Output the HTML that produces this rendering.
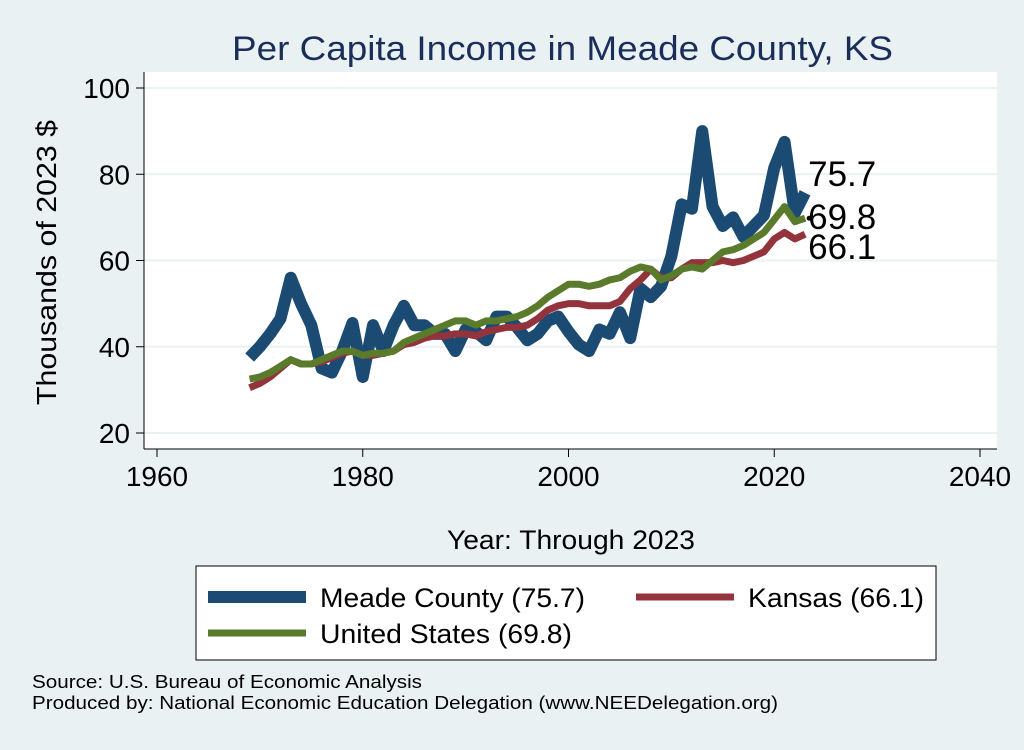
<!DOCTYPE html>
<html><head><meta charset="utf-8"><style>
body{margin:0;background:#eaf1f3;font-family:"Liberation Sans",sans-serif}
</style></head><body>
<svg id="c" width="1024" height="745" xmlns="http://www.w3.org/2000/svg">
<rect width="1024" height="745" fill="#eaf1f3"/>
<rect x="144" y="72" width="853" height="377" fill="#fff"/>
<text x="232" y="60" font-size="34" fill="#1a2e5a" textLength="661" lengthAdjust="spacingAndGlyphs">Per Capita Income in Meade County, KS</text>
<text x="447" y="549" font-size="27" textLength="248" lengthAdjust="spacingAndGlyphs">Year: Through 2023</text>
<text transform="translate(56,405) rotate(-90)" font-size="28" textLength="285" lengthAdjust="spacingAndGlyphs">Thousands of 2023 $</text>
<g id="grid"></g><g id="series"></g><g id="axes"></g>
<rect x="196" y="566" width="740" height="94" fill="#fff" stroke="#000" stroke-width="1"/>
<g><line x1="208" y1="597" x2="306" y2="597" stroke="#1b4a72" stroke-width="12"/><text x="320" y="607" font-size="27" textLength="265" lengthAdjust="spacingAndGlyphs">Meade County (75.7)</text></g>
<g><line x1="636" y1="597" x2="734" y2="597" stroke="#93343c" stroke-width="7"/><text x="748" y="607" font-size="27" textLength="176" lengthAdjust="spacingAndGlyphs">Kansas (66.1)</text></g>
<g><line x1="208" y1="633" x2="306" y2="633" stroke="#5a7a2c" stroke-width="7"/><text x="320" y="643" font-size="27" textLength="252" lengthAdjust="spacingAndGlyphs">United States (69.8)</text></g>
<text x="32" y="688" font-size="18" textLength="390" lengthAdjust="spacingAndGlyphs">Source: U.S. Bureau of Economic Analysis</text>
<text x="32" y="709" font-size="18" textLength="746" lengthAdjust="spacingAndGlyphs">Produced by: National Economic Education Delegation (www.NEEDelegation.org)</text>
</svg>
<script>
const years=[];for(let y=1969;y<=2023;y++)years.push(y);
const meade=[37.5,40,43,46.5,56,50,45,35,34,39,45.5,33,45,39,45,49.5,45,45,43,43,39,44,43.5,41.5,47,47,44.5,41.5,43,46,47,43.5,40.5,39,44,43,48,42,53.5,51.5,54,61,73,72,90,72.5,68,70,65.5,68,70.5,81.5,87.5,71,75.7];
const kansas=[30.5,31.5,33,35,37,36,36,36.5,37.5,38.5,39,38,38,38.5,39,40.5,41,42,42.5,42.5,43,43,42.5,43.5,44,44.5,44.5,45,46.5,48.5,49.5,50,50,49.5,49.5,49.5,50.5,53.5,55.5,58,56,56,58,59.5,59.5,59.5,60,59.5,60,61,62,65,66.5,65,66.1];
const us=[32.5,33,34,35.5,37,36,36,37,38,39,39,38,38.5,38.5,39,41,42,43,44,45,46,46,45,46,46,46.5,47,48,49.5,51.5,53,54.5,54.5,54,54.5,55.5,56,57.5,58.5,58,55.5,56.5,58,58.5,58,60,62,62.5,63.5,65,66.5,69.5,72.5,69,69.8];
const xTicks=[1960,1980,2000,2020,2040];
const yTicks=[20,40,60,80,100];
const X=v=>157+(v-1960)*(980-157)/80;
const Y=v=>433-(v-20)*(433-88)/80;
const NS="http://www.w3.org/2000/svg";
function mk(t,a,p){const e=document.createElementNS(NS,t);for(const k in a)e.setAttribute(k,a[k]);p.appendChild(e);return e;}
const g=document.getElementById('grid'),ax=document.getElementById('axes'),sr=document.getElementById('series');
yTicks.forEach(v=>{
 const l=mk('line',{x1:144,x2:997,y1:Y(v),y2:Y(v),stroke:'#eaf1f3','stroke-width':2},g);
 
 
 mk('line',{x1:136,x2:144,y1:Y(v),y2:Y(v),stroke:'#000'},ax);
 const t=mk('text',{x:130,y:Y(v)+10,'font-size':28,'text-anchor':'end'},ax);t.textContent=v;
 
 
});
xTicks.forEach(v=>{
 mk('line',{x1:X(v),x2:X(v),y1:449,y2:457,stroke:'#000'},ax);
 const t=mk('text',{x:X(v),y:486,'font-size':28,'text-anchor':'middle'},ax);t.textContent=v;
 
 
});
mk('line',{x1:144,x2:144,y1:72,y2:449,stroke:'#000'},ax);
mk('line',{x1:144,x2:997,y1:449,y2:449,stroke:'#000'},ax);
function line(d,c,w,n){const p=mk('polyline',{points:d.map((v,i)=>X(years[i])+','+Y(v)).join(' '),fill:'none',stroke:c,'stroke-width':w,'stroke-linejoin':'round'},sr);
 
 }
line(meade,'#1b4a72',12,'meade-line');
line(kansas,'#93343c',7,'kansas-line');
line(us,'#5a7a2c',7,'us-line');
const lx=X(2023);
[[meade,'75.7',-7,'meade-end-label'],[us,'69.8',11,'us-end-label'],[kansas,'66.1',25,'kansas-end-label']].forEach(([d,s,o,n])=>{
 const t=mk('text',{x:lx+3,y:Y(d[d.length-1])+o,'font-size':35},sr);t.textContent=s;
 
 
});
mk('circle',{cx:lx+4,cy:Y(us[us.length-1]),r:2.5,fill:'#000'},sr);
</script>
</body></html>
